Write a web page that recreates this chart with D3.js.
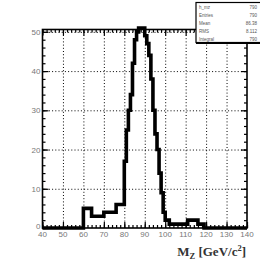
<!DOCTYPE html>
<html>
<head>
<meta charset="utf-8" />
<script src="https://d3js.org/d3.v7.min.js"></script>
<style>
  body { margin: 0; background: #fff; }
  .lbl { font-family: "Liberation Sans", Arial, sans-serif; font-size: 8px; fill: #777; }
</style>
</head>
<body>
<script>
// histogram: 1 GeV bins from 40 to 140
var binLow = 40, binWidth = 1;
var counts = [
  0,0,0,0,0,0,0,0,0,0, 0,0,0,0,0,0,0,0,0,0,
  5,5,5,5,3,3,3,3,3,3, 4,4,4,4,4,4,6,6,6,6,
  17,25,30,34,42,48,50,51,51,51, 49,47,44,38,30,24,20,14,9,4,
  2,2,1,1,1,1,1,1,1,1, 1,2,2,2,2,2,1,1,1,0,
  0,0,0,0,0,0,0,0,0,0, 0,0,0,0,0,0,0,0,0,0
];
var xTicks = [40,50,60,70,80,90,100,110,120,130,140];
var yTicks = [0,10,20,30,40,50];
var statRows = [["h_mz","790"],["Entries","790"],["Mean","86.38"],["RMS","8.112"],["Integral","790"]];

var W = 260, H = 271;
var fx0 = 42.5, fx1 = 247, fy0 = 29.5, fy1 = 228;

var svg = d3.select("body").append("svg").attr("width",W).attr("height",H);
svg.append("rect").attr("width",W).attr("height",H).attr("fill","#fff");

var x = d3.scaleLinear().domain([40,140]).range([fx0,fx1]);
var y = d3.scaleLinear().domain([0,50.6]).range([fy1,fy0]);

// dotted grid
var gx = svg.append("g").attr("transform","translate(0,"+fy1+")")
  .call(d3.axisBottom(x).tickValues(xTicks.slice(1,-1)).tickSize(-(fy1-fy0)).tickFormat(""));
gx.select(".domain").remove();
gx.selectAll("line").attr("stroke","#000").attr("stroke-dasharray","1,2.2");
var gy = svg.append("g").attr("transform","translate("+fx0+",0)")
  .call(d3.axisLeft(y).tickValues(yTicks.slice(1)).tickSize(-(fx1-fx0)).tickFormat(""));
gy.select(".domain").remove();
gy.selectAll("line").attr("stroke","#000").attr("stroke-dasharray","1,2.2");

// ticks on all four sides, pointing inward
var xMinor = d3.range(40,141,2), yMinor = d3.range(0,51,2);
function tickAxis(axisFn, scale, vals, size, tr) {
  var g = svg.append("g").attr("transform",tr)
    .call(axisFn(scale).tickValues(vals).tickSize(size).tickFormat(""));
  g.select(".domain").remove();
  g.selectAll("line").attr("stroke","#000").attr("stroke-width",1.2);
}
tickAxis(d3.axisBottom, x, xMinor, -3, "translate(0,"+fy1+")");
tickAxis(d3.axisBottom, x, xTicks, -6, "translate(0,"+fy1+")");
tickAxis(d3.axisTop, x, xMinor, -3, "translate(0,"+fy0+")");
tickAxis(d3.axisTop, x, xTicks, -6, "translate(0,"+fy0+")");
tickAxis(d3.axisLeft, y, yMinor, -3, "translate("+fx0+",0)");
tickAxis(d3.axisLeft, y, yTicks, -6, "translate("+fx0+",0)");
tickAxis(d3.axisRight, y, yMinor, -3, "translate("+fx1+",0)");
tickAxis(d3.axisRight, y, yTicks, -6, "translate("+fx1+",0)");

// frame
svg.append("rect").attr("x",fx0).attr("y",fy0).attr("width",fx1-fx0).attr("height",fy1-fy0)
  .attr("fill","none").attr("stroke","#000").attr("stroke-width",1.6);

// tick labels
svg.append("g").selectAll("text").data(xTicks).join("text").attr("class","lbl")
  .attr("x",d=>x(d)).attr("y",fy1+9).attr("text-anchor","middle").text(d=>d);
svg.append("g").selectAll("text").data(yTicks).join("text").attr("class","lbl")
  .attr("x",fx0-2).attr("y",d=>y(d)+(d===0?1:3)).attr("text-anchor","end").text(d=>d);

// histogram
var pts = counts.map((c,i)=>[binLow+i*binWidth, c]);
pts.push([binLow+counts.length*binWidth, counts[counts.length-1]]);
var line = d3.line().x(d=>x(d[0])).y(d=>y(d[1])).curve(d3.curveStepAfter);
svg.append("path").datum(pts).attr("d",line)
  .attr("fill","none").attr("stroke","#000").attr("stroke-width",3.6).attr("stroke-linejoin","miter");

// axis title
var t = svg.append("text").attr("x",fx1-1).attr("y",256).attr("text-anchor","end")
  .attr("font-family","'Liberation Serif', 'Times New Roman', serif").attr("font-weight","bold")
  .attr("font-size","13px").attr("fill","#333");
t.append("tspan").text("M");
t.append("tspan").attr("font-size","8.5px").attr("dy",2.5).text("Z");
t.append("tspan").attr("dy",-2.5).text(" [GeV/c");
t.append("tspan").attr("font-size","8.5px").attr("dy",-5).text("2");
t.append("tspan").attr("dy",5).text("]");

// stats box
var sb = svg.append("g");
sb.append("rect").attr("x",196).attr("y",2.5).attr("width",70).attr("height",40)
  .attr("fill","#fff").attr("stroke","#000").attr("stroke-width",1.2);
sb.append("line").attr("x1",196).attr("x2",266).attr("y1",43).attr("y2",43).attr("stroke","#000").attr("stroke-width",2);
statRows.forEach(function(r,i){
  sb.append("text").attr("x",199).attr("y",9+i*8).attr("font-size","4.5px")
    .attr("font-family","Liberation Sans, sans-serif").attr("fill","#555").text(r[0]);
  sb.append("text").attr("x",257).attr("y",9+i*8).attr("font-size","4.5px").attr("text-anchor","end")
    .attr("font-family","Liberation Sans, sans-serif").attr("fill","#555").text(r[1]);
});
</script>
</body>
</html>
